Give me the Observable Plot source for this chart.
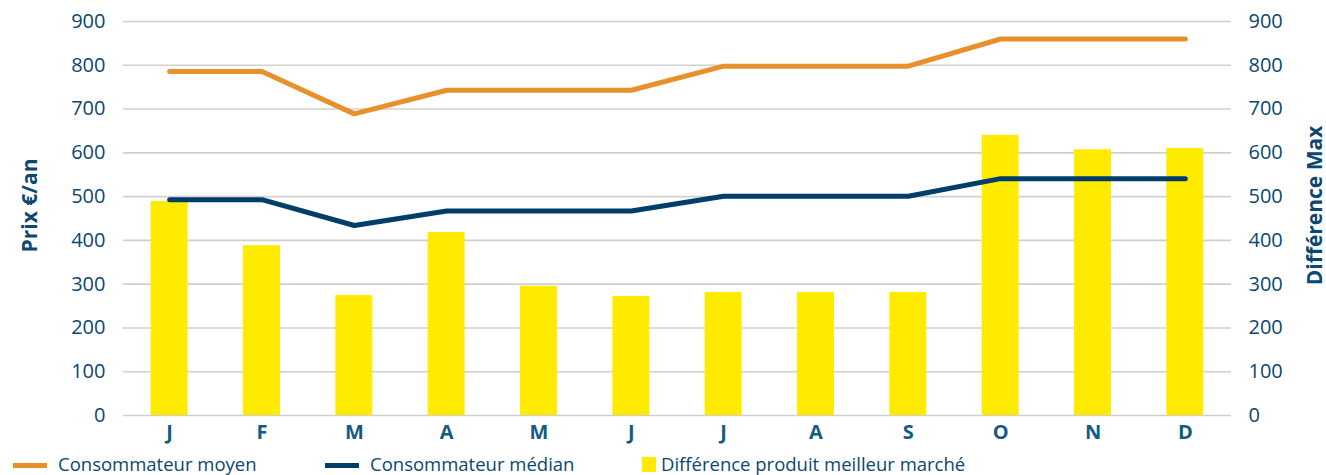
<!DOCTYPE html>
<html>
<head>
<meta charset="utf-8">
<script src="https://cdn.jsdelivr.net/npm/d3@7"></script>
<script src="https://cdn.jsdelivr.net/npm/@observablehq/plot@0.6"></script>
<style>
  html, body { margin: 0; padding: 0; background: #fff; overflow: hidden; }
  #wrap { position: relative; width: 1326px; height: 475px; }
  #chart svg { display: block; }
  g[aria-label="y-axis label"] text { font-weight: bold; font-size: 21px; }
  g[aria-label="x-axis tick label"] text { font-weight: bold; fill: #135b83; }
  #legend { position: absolute; left: 0; top: 451px; width: 1326px; height: 26px;
            font-family: "Open Sans", sans-serif; font-size: 18.5px; color: #0b4770; }
  .item { position: absolute; top: 0; height: 26px; line-height: 26px; white-space: nowrap; }
  .sw { position: absolute; }
</style>
</head>
<body>
<div id="wrap">
  <div id="chart"></div>
  <div id="legend"></div>
</div>
<script>
const months = ["J","F","M","A","M","J","J","A","S","O","N","D"];
const moyen  = [786,786,689,743,743,743,798,798,798,860,860,860];
const median = [493,493,434,467,467,467,501,501,501,541,541,541];
const diff   = [489,388,274,418,295,272,281,281,281,640,607,610];
const yTicks = [0,100,200,300,400,500,600,700,800,900];

const seriesNames = ["Consommateur moyen","Consommateur médian","Différence produit meilleur marché"];
const colors = {moyen:"#E8912B", median:"#003E6A", diff:"#FFEB00"};

const data = months.map((m, i) => ({i, m, moyen: moyen[i], median: median[i], diff: diff[i]}));

const chart = Plot.plot({
  width: 1326,
  height: 450,
  marginTop: 21,
  marginBottom: 35,
  marginLeft: 123,
  marginRight: 95,
  style: {fontFamily: "'Open Sans', sans-serif", fontSize: "20px", color: "#0b4770", background: "#fff"},
  x: {type: "band", domain: d3.range(months.length), paddingInner: 0.6, paddingOuter: 0.3, round: false},
  y: {domain: [0, 900]},
  marks: [
    Plot.gridY(yTicks, {stroke: "#d0d0d0", strokeOpacity: 1, strokeWidth: 1.6}),
    Plot.barY(data, {x: "i", y: "diff", fill: colors.diff}),
    Plot.lineY(data, {x: "i", y: "moyen", stroke: colors.moyen, strokeWidth: 5, strokeLinecap: "round", strokeLinejoin: "round"}),
    Plot.lineY(data, {x: "i", y: "median", stroke: colors.median, strokeWidth: 5, strokeLinecap: "round", strokeLinejoin: "round"}),
    Plot.axisX({tickSize: 0, tickPadding: 9, tickFormat: i => months[i], label: null}),
    Plot.axisY({anchor: "left", ticks: yTicks, tickSize: 0, tickPadding: 18, label: "Prix €/an", labelArrow: "none", labelAnchor: "center", labelOffset: 101}),
    Plot.axisY({anchor: "right", ticks: yTicks, tickSize: 0, tickPadding: 17, label: "Différence Max", labelArrow: "none", labelAnchor: "center", labelOffset: 90})
  ]
});
// remove any arrow glyphs and lift the axis titles a little (as in the original)
d3.select(chart).selectAll('g[aria-label="y-axis label"]').each(function() {
  const g = d3.select(this);
  g.attr("transform", (g.attr("transform") || "") + " translate(0,-13)");
  g.selectAll("text").each(function() {
    const t = d3.select(this);
    t.text(t.text().replace(/\s*[↑↓→←]\s*/g, ""));
  });
});
document.getElementById("chart").appendChild(chart);

const legend = document.getElementById("legend");
const items = [
  {name: seriesNames[0], color: colors.moyen, left: 13, kind: "line"},
  {name: seriesNames[1], color: colors.median, left: 325, kind: "line"},
  {name: seriesNames[2], color: colors.diff, left: 642, kind: "box"}
];
for (const it of items) {
  const d = document.createElement("div");
  d.className = "item";
  d.style.left = it.left + "px";
  const sw = document.createElement("span");
  sw.className = "sw";
  sw.style.background = it.color;
  if (it.kind === "line") {
    sw.style.left = "0px"; sw.style.top = "12px"; sw.style.width = "34px"; sw.style.height = "5px";
    d.style.paddingLeft = "45px";
  } else {
    sw.style.left = "0px"; sw.style.top = "6px"; sw.style.width = "14px"; sw.style.height = "15px";
    d.style.paddingLeft = "19px";
  }
  d.appendChild(sw);
  d.appendChild(document.createTextNode(it.name));
  legend.appendChild(d);
}
</script>
</body>
</html>
